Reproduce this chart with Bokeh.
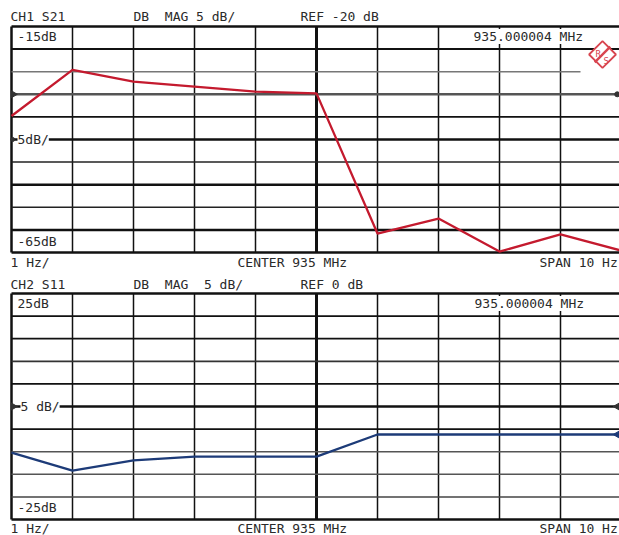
import math
from bokeh.plotting import figure
from bokeh.models import Label, ColumnDataSource
from bokeh.layouts import column
from bokeh.embed import file_html
from bokeh.resources import INLINE

# ---------------- data ----------------
freq_offset_hz = [-5, -4, -3, -2, -1, 0, 1, 2, 3, 4, 5]          # 1 Hz/div around 935 MHz
s21_db = [-34.8, -24.6, -27.2, -28.3, -29.4, -29.8, -60.8, -57.5, -64.8, -61.0, -64.6]
s11_db = [-10.2, -14.2, -11.9, -11.1, -11.1, -11.1, -6.2, -6.2, -6.2, -6.2, -6.2]

top_div_db = [-15, -20, -25, -30, -35, -40, -45, -50, -55, -60, -65]
bot_div_db = [25, 20, 15, 10, 5, 0, -5, -10, -15, -20, -25]

NB = "\u00a0"
ch1_texts = ["CH1" + NB + "S21", "DB" + NB * 2 + "MAG" + NB + "5" + NB + "dB/", "REF" + NB + "-20" + NB + "dB",
             "935.000004" + NB + "MHz", "-15dB", "5dB/", "-65dB", "1" + NB + "Hz/",
             "CENTER" + NB + "935" + NB + "MHz", "SPAN" + NB + "10" + NB + "Hz"]
ch2_texts = ["CH2" + NB + "S11", "DB" + NB * 2 + "MAG" + NB * 2 + "5" + NB + "dB/", "REF" + NB + "0" + NB + "dB",
             "935.000004" + NB + "MHz", "25dB", "5" + NB + "dB/", "-25dB", "1" + NB + "Hz/",
             "CENTER" + NB + "935" + NB + "MHz", "SPAN" + NB + "10" + NB + "Hz"]

FONT = "DejaVu Sans Mono"
FS = "13px"
TXT = "#2a2a2a"
PX_PER_HZ = 61.0
PX_PER_DB = 4.52
LEFT_PX = 11  # page x of the left grid border


def px_x(page_x):
    return freq_offset_hz[0] + (page_x - LEFT_PX) / PX_PER_HZ


def make_panel(height, y_top_db, y_bot_db, top_margin_px, bottom_margin_px):
    x0 = px_x(0)
    x1 = px_x(619)
    y1 = y_top_db + top_margin_px / PX_PER_DB
    y0 = y_bot_db - bottom_margin_px / PX_PER_DB
    p = figure(width=619, height=height, x_range=(x0, x1), y_range=(y0, y1),
               x_axis_type=None, y_axis_type=None, toolbar_location=None,
               output_backend="svg", min_border=0)
    p.outline_line_color = None
    p.background_fill_color = "white"
    p.border_fill_color = "white"
    return p


def draw_grid(p, ydivs, hstyles, h_x1=None):
    ytop, ybot = ydivs[0], ydivs[-1]
    vw = [2.5 if x == freq_offset_hz[0] else (3.0 if x == 0 else 1.5) for x in freq_offset_hz]
    vsrc = ColumnDataSource(dict(x=freq_offset_hz, y0=[ybot] * len(freq_offset_hz),
                                 y1=[ytop] * len(freq_offset_hz), w=vw))
    p.segment(x0="x", y0="y0", x1="x", y1="y1", line_width="w", line_color="#111111", source=vsrc)
    xs0 = [freq_offset_hz[0]] * len(ydivs)
    xs1 = [freq_offset_hz[-1] if (h_x1 is None or h_x1[i] is None) else h_x1[i] for i in range(len(ydivs))]
    hsrc = ColumnDataSource(dict(x0=xs0, x1=xs1, y=ydivs,
                                 w=[s[0] for s in hstyles], c=[s[1] for s in hstyles]))
    p.segment(x0="x0", y0="y", x1="x1", y1="y", line_width="w", line_color="c", source=hsrc)


def lab(p, x, y, text, bg=None, size=FS, color=TXT, **kw):
    l = Label(x=x, y=y, text=text, text_font=FONT, text_font_size=size, text_color=color,
              text_baseline="middle", text_align="left", **kw)
    if bg:
        l.background_fill_color = bg
    p.add_layout(l)


# ---------------- top panel (CH1 S21) ----------------
top = make_panel(273, top_div_db[0], top_div_db[-1], 26, 21)
top_styles = [(2.5, "#111111"), (2.0, "#111111"), (1.5, "#777777"), (2.5, "#555555"),
              (1.8, "#111111"), (2.5, "#111111"), (1.5, "#222222"), (2.5, "#111111"),
              (1.5, "#222222"), (2.5, "#111111"), (2.5, "#111111")]
h_end = [None] * 11
h_end[2] = px_x(580)
draw_grid(top, top_div_db, top_styles, h_end)

top.line(freq_offset_hz, s21_db, line_color="#c41a2e", line_width=2.3)

top.scatter([freq_offset_hz[0] + 0.03], [-30], marker="triangle", angle=-math.pi / 2,
            size=7, fill_color="#333333", line_color="#333333")
top.scatter([freq_offset_hz[-1] - 0.07], [-30], marker="circle", size=5,
            fill_color="#333333", line_color="#333333")
top.scatter([freq_offset_hz[0] + 0.02], [-40], marker="circle", size=4,
            fill_color="#333333", line_color="#333333")

# R&S logo
logo_x, logo_y = px_x(602), top_div_db[0] - 28 / PX_PER_DB
top.scatter([logo_x], [logo_y], marker="square", angle=math.pi / 4, size=19,
            fill_color="white", line_color="#d8454f", line_width=1.8)
top.scatter([logo_x], [logo_y], marker="dash", angle=math.pi / 4, size=22,
            line_color="#d8454f", line_width=2.4)
top.add_layout(Label(x=logo_x, y=logo_y, x_offset=-7, y_offset=1, text="R",
                     text_font=FONT, text_font_size="9px", text_color="#d8454f",
                     text_baseline="middle"))
top.add_layout(Label(x=logo_x, y=logo_y, x_offset=1, y_offset=-6, text="S",
                     text_font=FONT, text_font_size="9px", text_color="#d8454f",
                     text_baseline="middle"))

yh = top_div_db[0] + 10 / PX_PER_DB
yc = top_div_db[0] - 10 / PX_PER_DB
lab(top, px_x(10), yh, ch1_texts[0])
lab(top, px_x(133), yh, ch1_texts[1])
lab(top, px_x(300), yh, ch1_texts[2])
lab(top, px_x(473), yc, ch1_texts[3], bg="white")
lab(top, px_x(17), yc, ch1_texts[4])
lab(top, px_x(17), top_div_db[5], ch1_texts[5], bg="white")
lab(top, px_x(17), top_div_db[-1] + 11 / PX_PER_DB, ch1_texts[6])
yf = top_div_db[-1] - 10 / PX_PER_DB
lab(top, px_x(10), yf, ch1_texts[7])
lab(top, px_x(237), yf, ch1_texts[8])
lab(top, px_x(539), yf, ch1_texts[9])

# ---------------- bottom panel (CH2 S11) ----------------
bot = make_panel(262, bot_div_db[0], bot_div_db[-1], 20, 16)
bot_styles = [(2.5, "#111111"), (1.8, "#111111"), (1.8, "#111111"), (1.8, "#333333"),
              (1.8, "#111111"), (2.5, "#111111"), (1.8, "#111111"), (1.5, "#555555"),
              (1.5, "#555555"), (1.5, "#444444"), (2.5, "#111111")]
draw_grid(bot, bot_div_db, bot_styles)

bot.line(freq_offset_hz, s11_db, line_color="#1d3b78", line_width=2.3)

bot.scatter([freq_offset_hz[0] + 0.03], [0], marker="triangle", angle=-math.pi / 2,
            size=7, fill_color="#333333", line_color="#333333")
bot.scatter([freq_offset_hz[-1] - 0.07], [0], marker="triangle", angle=math.pi / 2,
            size=7, fill_color="#333333", line_color="#333333")
bot.scatter([freq_offset_hz[-1] - 0.07], [s11_db[-1]], marker="triangle", angle=math.pi / 2,
            size=7, fill_color="#1d3b78", line_color="#1d3b78")

yh2 = bot_div_db[0] + 9 / PX_PER_DB
yc2 = bot_div_db[0] - 10 / PX_PER_DB
lab(bot, px_x(10), yh2, ch2_texts[0])
lab(bot, px_x(133), yh2, ch2_texts[1])
lab(bot, px_x(300), yh2, ch2_texts[2])
lab(bot, px_x(474), yc2, ch2_texts[3], bg="white")
lab(bot, px_x(17), yc2, ch2_texts[4])
lab(bot, px_x(20), bot_div_db[5], ch2_texts[5], bg="white")
lab(bot, px_x(17), bot_div_db[-1] + 12 / PX_PER_DB, ch2_texts[6])
yf2 = bot_div_db[-1] - 9 / PX_PER_DB
lab(bot, px_x(10), yf2, ch2_texts[7])
lab(bot, px_x(237), yf2, ch2_texts[8])
lab(bot, px_x(539), yf2, ch2_texts[9])

layout = column(top, bot, spacing=0)
open("out.html", "w").write(file_html(layout, INLINE))
